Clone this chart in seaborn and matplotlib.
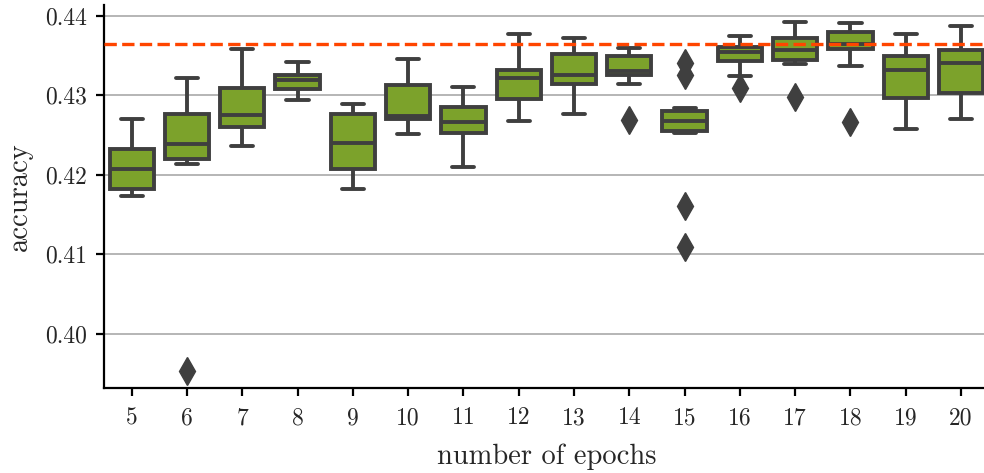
import pandas as pd
import matplotlib
matplotlib.use("Agg")
import matplotlib.pyplot as plt
import seaborn as sns

# box statistics, one entry per epoch
epochs = list(range(5, 21))
whis_lo = [0.41732, 0.42135, 0.42361, 0.42940, 0.41824, 0.42516, 0.42101, 0.42676,
           0.42767, 0.43141, 0.42521, 0.43237, 0.43389, 0.43367, 0.42579, 0.42704]
q1 = [0.41820, 0.42197, 0.42604, 0.43078, 0.42072, 0.42701, 0.42521, 0.42948,
      0.43141, 0.43250, 0.42553, 0.43430, 0.43439, 0.43585, 0.42969, 0.43028]
med = [0.42068, 0.42382, 0.42751, 0.43191, 0.42395, 0.42742, 0.42663, 0.43216,
       0.43254, 0.43304, 0.42679, 0.43540, 0.43572, 0.43644, 0.43321, 0.43401]
q3 = [0.42323, 0.42767, 0.43087, 0.43254, 0.42767, 0.43132, 0.42848, 0.43313,
      0.43522, 0.43497, 0.42801, 0.43610, 0.43720, 0.43799, 0.43497, 0.43565]
whis_hi = [0.42697, 0.43213, 0.43581, 0.43418, 0.42893, 0.43459, 0.43099, 0.43766,
           0.43720, 0.43594, 0.42835, 0.43745, 0.43921, 0.43912, 0.43774, 0.43871]

# outliers (diamonds)
flier_epoch = [6, 14, 15, 15, 15, 15, 16, 17, 18]
flier_acc = [0.39535, 0.42688, 0.41094, 0.41606, 0.43254, 0.43401, 0.43094, 0.42977, 0.42659]

baseline = 0.4364

# rebuild samples whose quartiles/whiskers give the boxes above
rows = []
for i, ep in enumerate(epochs):
    fl = [a for e, a in zip(flier_epoch, flier_acc) if e == ep]
    vals = ([a for a in fl if a < q1[i]] + [whis_lo[i]] + [q1[i]] * 10 + [med[i]] * 10
            + [q3[i]] * 10 + [whis_hi[i]] + [a for a in fl if a > q3[i]])
    rows += [(ep, v) for v in vals]
df = pd.DataFrame(rows, columns=["epochs", "accuracy"])

sns.set_style("ticks")
plt.rcParams["font.family"] = "serif"
plt.rcParams["font.serif"] = ["cmr10"]
plt.rcParams["mathtext.fontset"] = "cm"
plt.rcParams["axes.formatter.use_mathtext"] = True
plt.rcParams["axes.unicode_minus"] = False

fig = plt.figure(figsize=(9.84, 4.73), dpi=100)
ax = fig.add_axes([104 / 984, (473 - 388.3) / 473, (988.7 - 104) / 984, (388.3 - 4.6) / 473])

line_col = "#3f3f3f"
sns.boxplot(data=df, x="epochs", y="accuracy", color="#7ca22b", saturation=1,
            linecolor=line_col, linewidth=2.8, width=0.8, ax=ax,
            flierprops=dict(marker="d", markerfacecolor=line_col, markeredgecolor=line_col,
                            markersize=14, markeredgewidth=1))

ax.axhline(baseline, color="#ff4500", linestyle="--", linewidth=2.4, zorder=5)

ax.set_axisbelow(True)
ax.yaxis.grid(True, color="#b0b0b0", linewidth=1.3)
ax.set_yticks([0.40, 0.41, 0.42, 0.43, 0.44])
ax.set_yticklabels(["0.40", "0.41", "0.42", "0.43", "0.44"])
sns.despine(ax=ax)
for s in ["left", "bottom"]:
    ax.spines[s].set_linewidth(1.6)
    ax.spines[s].set_color("black")
ax.tick_params(axis="both", labelsize=17, width=1.6, length=6, color="black")
ax.tick_params(axis="x", pad=7.5)
ax.tick_params(axis="y", pad=6)
ax.set_xlabel("number of epochs", fontsize=20.5, labelpad=10)
ax.set_ylabel("accuracy", fontsize=20.5, labelpad=9)

fig.savefig("out.png", dpi=100)
